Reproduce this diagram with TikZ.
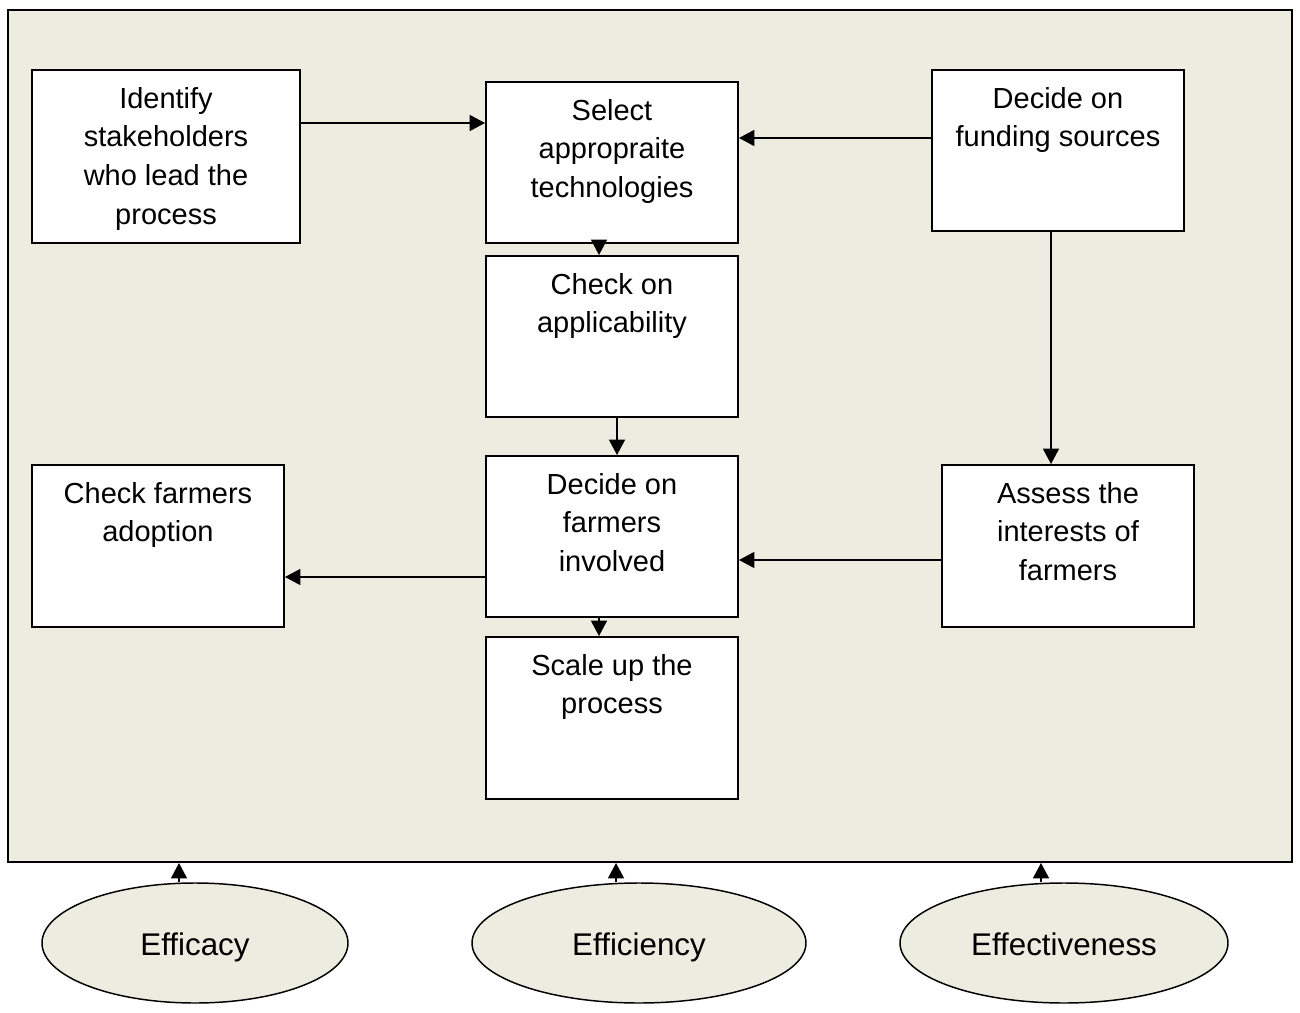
\documentclass[tikz,border=0pt]{standalone}
\usepackage{fontspec}
\setmainfont{Liberation Sans}
\usetikzlibrary{arrows.meta,shapes.geometric,calc}
\definecolor{panel}{RGB}{237,236,225}
\tikzset{
  stepbox/.style={draw=black, fill=white, line width=1.5pt, rectangle, inner sep=0pt},
  lbl/.style={anchor=north, inner sep=0pt, align=center,
    font=\fontsize{21.75}{29}\selectfont},
  goal/.style={draw=black, fill=panel, line width=1.1pt, ellipse, inner sep=0pt,
    text height=20pt, text depth=2pt,
    font=\fontsize{23.5}{28}\selectfont},
  arr/.style={line width=1.1pt, -{Triangle[length=11.5pt,width=12pt]}},
}
\begin{document}
\begin{tikzpicture}[x=0.75pt,y=-0.75pt]
\useasboundingbox (0,0) rectangle (1300,1013);

% outer panel
\node[draw=black, fill=panel, line width=1.5pt, rectangle, inner sep=0pt,
  minimum width=1284*0.75pt, minimum height=852*0.75pt] (frame) at (650,436) {};

% process boxes (centre, width, height in px)
\node[stepbox, minimum width=268*0.75pt, minimum height=173*0.75pt] (idt) at (166,156.5) {};
\node[stepbox, minimum width=252*0.75pt, minimum height=161*0.75pt] (sel) at (612,162.5) {};
\node[stepbox, minimum width=252*0.75pt, minimum height=161*0.75pt] (fund) at (1058,150.5) {};
\node[stepbox, minimum width=252*0.75pt, minimum height=161*0.75pt] (app) at (612,336.5) {};
\node[stepbox, minimum width=252*0.75pt, minimum height=161*0.75pt] (farm) at (612,536.5) {};
\node[stepbox, minimum width=252*0.75pt, minimum height=162*0.75pt] (ass) at (1068,546) {};
\node[stepbox, minimum width=252*0.75pt, minimum height=162*0.75pt] (adopt) at (158,546) {};
\node[stepbox, minimum width=252*0.75pt, minimum height=162*0.75pt] (scale) at (612,718) {};

% box texts, set from the top of each box
\node[lbl] (idt-t) at ($(idt.north)+(0,18)$) {Identify\\stakeholders\\who lead the\\process};
\node[lbl] (sel-t) at ($(sel.north)+(0,18)$) {Select\\appropraite\\technologies};
\node[lbl] (fund-t) at ($(fund.north)+(0,18)$) {Decide on\\funding sources};
\node[lbl] (app-t) at ($(app.north)+(0,18)$) {Check on\\applicability};
\node[lbl] (farm-t) at ($(farm.north)+(0,18)$) {Decide on\\farmers\\involved};
\node[lbl] (ass-t) at ($(ass.north)+(0,18)$) {Assess the\\interests of\\farmers};
\node[lbl] (adopt-t) at ($(adopt.north)+(0,18)$) {Check farmers\\adoption};
\node[lbl] (scale-t) at ($(scale.north)+(0,18)$) {Scale up the\\process};

% connectors between steps
\draw[arr] (idt.east |- 0,123) -- (sel.west |- 0,123);
\draw[arr] (fund.west |- 0,138) -- (sel.east |- 0,138);
\draw[arr] (sel.south -| 599,0) -- (app.north -| 599,0);
\draw[arr] (app.south -| 617,0) -- (farm.north -| 617,0);
\draw[arr] (fund.south -| 1051,0) -- (ass.north -| 1051,0);
\draw[arr] (ass.west |- 0,560) -- (farm.east |- 0,560);
\draw[arr] (farm.west |- 0,577) -- (adopt.east |- 0,577);
\draw[arr] (farm.south -| 599,0) -- (scale.north -| 599,0);

% guiding criteria
\node[goal, minimum width=306*0.75pt, minimum height=120*0.75pt] (e1) at (195,943) {Efficacy};
\node[goal, minimum width=334*0.75pt, minimum height=120*0.75pt] (e2) at (639,943) {Efficiency};
\node[goal, minimum width=328*0.75pt, minimum height=120*0.75pt] (e3) at (1064,943) {Effectiveness};

\coordinate (f1) at ($(e1.north)+(-16,0)$);
\coordinate (f2) at ($(e2.north)+(-23,0)$);
\coordinate (f3) at ($(e3.north)+(-23,0)$);
\draw[arr] (f1) -- (f1 |- frame.south);
\draw[arr] (f2) -- (f2 |- frame.south);
\draw[arr] (f3) -- (f3 |- frame.south);
\end{tikzpicture}
\end{document}
